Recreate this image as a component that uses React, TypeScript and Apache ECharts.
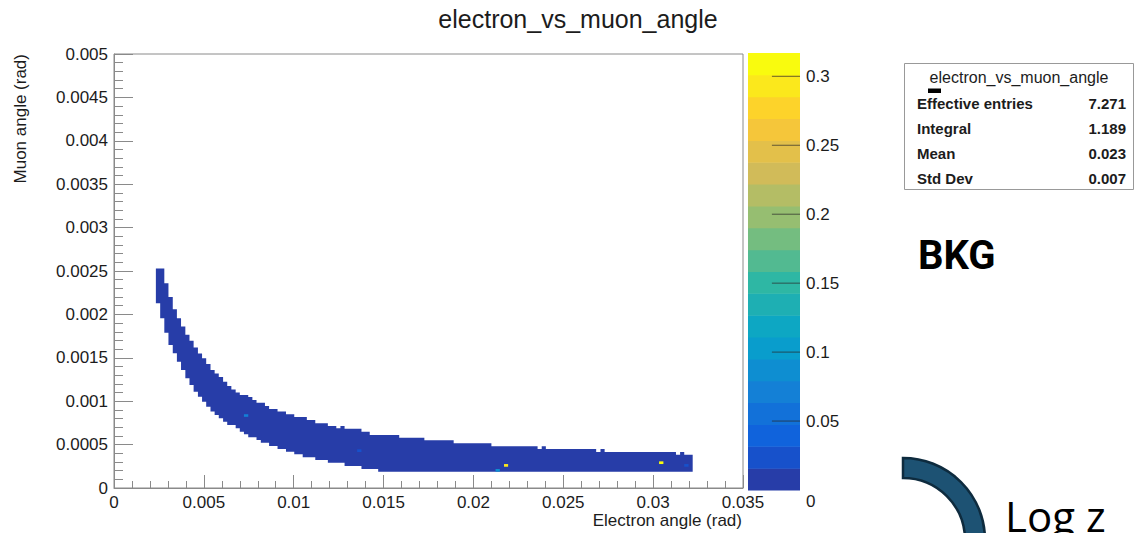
import React, { useEffect, useRef } from "react";
import * as echarts from "echarts";

const TITLE = "electron_vs_muon_angle";
const X_TITLE = "Electron angle (rad)";
const Y_TITLE = "Muon angle (rad)";
const X_MIN = 0;
const X_MAX = 0.035;
const X_INTERVAL = 0.005;
const Y_MIN = 0;
const Y_MAX = 0.005;
const Y_INTERVAL = 0.0005;
const Z_MAX = 0.3169;
const Z_LEVELS = 20;
const Z_TICKS = [0, 0.05, 0.1, 0.15, 0.2, 0.25, 0.3];

// content of the ordinary (dark blue) cells of the band
const BAND_CONTENT = 0.005;
// upper edge of the filled band: [xStart, xEnd, y]
const BAND_TOP = [
  [0.00233, 0.0028, 0.00253],
  [0.0028, 0.00303, 0.00236],
  [0.00303, 0.00327, 0.0022],
  [0.00327, 0.0035, 0.00206],
  [0.0035, 0.00373, 0.001955],
  [0.00373, 0.00397, 0.00186],
  [0.00397, 0.0042, 0.001765],
  [0.0042, 0.00443, 0.001695],
  [0.00443, 0.00467, 0.00162],
  [0.00467, 0.0049, 0.00155],
  [0.0049, 0.00513, 0.001495],
  [0.00513, 0.00537, 0.00143],
  [0.00537, 0.0056, 0.00136],
  [0.0056, 0.00583, 0.00132],
  [0.00583, 0.00607, 0.00128],
  [0.00607, 0.0063, 0.001225],
  [0.0063, 0.00653, 0.001175],
  [0.00653, 0.00677, 0.001135],
  [0.00677, 0.007, 0.0011],
  [0.007, 0.00747, 0.00107],
  [0.00747, 0.0077, 0.001048],
  [0.0077, 0.00793, 0.001015],
  [0.00793, 0.0084, 0.000983],
  [0.0084, 0.00863, 0.000945],
  [0.00863, 0.0091, 0.00091],
  [0.0091, 0.00957, 0.00088],
  [0.00957, 0.01003, 0.00085],
  [0.01003, 0.01073, 0.000818],
  [0.01073, 0.0112, 0.000783],
  [0.0112, 0.0119, 0.000745],
  [0.0119, 0.01237, 0.000714],
  [0.01237, 0.0126, 0.000688],
  [0.0126, 0.01283, 0.000714],
  [0.01283, 0.01377, 0.000683],
  [0.01377, 0.01423, 0.000649],
  [0.01423, 0.01587, 0.000611],
  [0.01587, 0.01727, 0.000579],
  [0.01727, 0.0189, 0.00055],
  [0.0189, 0.021, 0.000515],
  [0.021, 0.02357, 0.00048],
  [0.02357, 0.0238, 0.000449],
  [0.0238, 0.02403, 0.00048],
  [0.02403, 0.02683, 0.000449],
  [0.02683, 0.02707, 0.000415],
  [0.02707, 0.0273, 0.000449],
  [0.0273, 0.03127, 0.000415],
  [0.03127, 0.0315, 0.000384],
  [0.0315, 0.03173, 0.000415],
  [0.03173, 0.0322, 0.000384],
];
// lower edge of the filled band: [xStart, xEnd, y]
const BAND_BOTTOM = [
  [0.00233, 0.00257, 0.002128],
  [0.00257, 0.0028, 0.001955],
  [0.0028, 0.00303, 0.00179],
  [0.00303, 0.00327, 0.001647],
  [0.00327, 0.0035, 0.001552],
  [0.0035, 0.00373, 0.001455],
  [0.00373, 0.00397, 0.00136],
  [0.00397, 0.0042, 0.001264],
  [0.0042, 0.00443, 0.001187],
  [0.00443, 0.00467, 0.00111],
  [0.00467, 0.0049, 0.001052],
  [0.0049, 0.00513, 0.000994],
  [0.00513, 0.00537, 0.000937],
  [0.00537, 0.0056, 0.00088],
  [0.0056, 0.00583, 0.000841],
  [0.00583, 0.00607, 0.000803],
  [0.00607, 0.0063, 0.000764],
  [0.0063, 0.00677, 0.000726],
  [0.00677, 0.007, 0.000688],
  [0.007, 0.00723, 0.000649],
  [0.00723, 0.00747, 0.000619],
  [0.00747, 0.00793, 0.000584],
  [0.00793, 0.00817, 0.000553],
  [0.00817, 0.00863, 0.000522],
  [0.00863, 0.0091, 0.000484],
  [0.0091, 0.00957, 0.000449],
  [0.00957, 0.01003, 0.000418],
  [0.01003, 0.0105, 0.000388],
  [0.0105, 0.0112, 0.000354],
  [0.0112, 0.0119, 0.000323],
  [0.0119, 0.01283, 0.000291],
  [0.01283, 0.01377, 0.000253],
  [0.01377, 0.0147, 0.000219],
  [0.0147, 0.0322, 0.000188],
];
// single cells with a higher content: [xStart, xEnd, yLow, yHigh, content]
const HOT_CELLS = [
  [0.00723, 0.00747, 0.00082, 0.00085, 0.07],
  [0.01353, 0.01377, 0.000415, 0.000446, 0.025],
  [0.0217, 0.02193, 0.000245, 0.000276, 0.3],
  [0.02123, 0.02147, 0.000188, 0.000219, 0.09],
  [0.03033, 0.03057, 0.000276, 0.000307, 0.3169],
  [0.03173, 0.03197, 0.000245, 0.000276, 0.02],
];

const STATS_TITLE = "electron_vs_muon_angle";
const STATS_LABELS = ["Effective entries", "Integral", "Mean", "Std Dev"];
const STATS_VALUES = ["7.271", "1.189", "0.023", "0.007"];

// ROOT kBird palette
const BIRD_STOPS = [0, 0.125, 0.25, 0.375, 0.5, 0.625, 0.75, 0.875, 1];
const BIRD_R = [0.2082, 0.0592, 0.078, 0.0232, 0.1802, 0.5301, 0.8186, 0.9956, 0.9764];
const BIRD_G = [0.1664, 0.3599, 0.5041, 0.6419, 0.7178, 0.7492, 0.7328, 0.7862, 0.9832];
const BIRD_B = [0.5293, 0.8684, 0.8385, 0.7914, 0.6425, 0.4662, 0.3499, 0.1968, 0.0539];

function bird(t: number): string {
  let k = 0;
  while (k < BIRD_STOPS.length - 2 && t > BIRD_STOPS[k + 1]) k++;
  const f = (t - BIRD_STOPS[k]) / (BIRD_STOPS[k + 1] - BIRD_STOPS[k]);
  const c = (a: number[]) => Math.round(255 * (a[k] + f * (a[k + 1] - a[k])));
  return `rgb(${c(BIRD_R)},${c(BIRD_G)},${c(BIRD_B)})`;
}
const LEVEL_COLORS = Array.from({ length: Z_LEVELS }, (_, i) =>
  bird(Math.floor(((i + 0.99) * 255) / Z_LEVELS) / 254)
);
function colorOf(v: number): string {
  const i = Math.min(Z_LEVELS - 1, Math.max(0, Math.floor((v / Z_MAX) * Z_LEVELS)));
  return LEVEL_COLORS[i];
}

const FONT = '"Liberation Sans", Arial, Helvetica, sans-serif';
const AXIS_GRAY = "#8a8a8a";
const TEXT = "#1c1c1c";

export default function App() {
  const ref = useRef<HTMLDivElement>(null);
  useEffect(() => {
    if (!ref.current) return;
    const chart = echarts.init(ref.current, undefined, { renderer: "svg" });
    const textStyle = (extra: any) => ({ fontFamily: FONT, fill: TEXT, ...extra });
    const option: any = {
      animation: false,
      backgroundColor: "#ffffff",
      grid: [
        { left: 114, top: 54, width: 629, height: 434, show: true, borderColor: AXIS_GRAY, borderWidth: 1, backgroundColor: "transparent" },
        { left: 748, top: 53, width: 52, height: 437, show: false },
      ],
      xAxis: [
        {
          type: "value", gridIndex: 0, min: X_MIN, max: X_MAX, interval: X_INTERVAL,
          axisLine: { show: true, lineStyle: { color: AXIS_GRAY } },
          axisTick: { show: true, inside: true, length: 13, lineStyle: { color: AXIS_GRAY } },
          minorTick: { show: true, splitNumber: 5, length: 7, lineStyle: { color: AXIS_GRAY } },
          splitLine: { show: false },
          axisLabel: { fontSize: 17, color: TEXT, fontFamily: FONT, margin: 6 },
        },
        { type: "value", gridIndex: 1, min: 0, max: 1, show: false },
      ],
      yAxis: [
        {
          type: "value", gridIndex: 0, min: Y_MIN, max: Y_MAX, interval: Y_INTERVAL,
          axisLine: { show: true, lineStyle: { color: AXIS_GRAY } },
          axisTick: { show: true, inside: true, length: 19, lineStyle: { color: AXIS_GRAY } },
          minorTick: { show: true, splitNumber: 5, length: 9, lineStyle: { color: AXIS_GRAY } },
          splitLine: { show: false },
          axisLabel: { fontSize: 17, color: TEXT, fontFamily: FONT, margin: 6 },
        },
        {
          type: "value", gridIndex: 1, min: 0, max: Z_MAX, position: "right",
          axisLine: { show: false },
          axisTick: { show: false },
          splitLine: { show: false },
          axisLabel: {
            fontSize: 17, color: TEXT, fontFamily: FONT, margin: 6,
            customValues: Z_TICKS.filter((v) => v > 0),
          },
        },
      ],
      series: [
        {
          type: "custom", xAxisIndex: 0, yAxisIndex: 0, silent: true, data: [[0, 0]],
          renderItem: (_p: any, api: any) => {
            const pts: number[][] = [];
            for (const [x0, x1, y] of BAND_TOP) {
              pts.push(api.coord([x0, y]), api.coord([x1, y]));
            }
            for (let i = BAND_BOTTOM.length - 1; i >= 0; i--) {
              const [x0, x1, y] = BAND_BOTTOM[i];
              pts.push(api.coord([x1, y]), api.coord([x0, y]));
            }
            return { type: "polygon", shape: { points: pts }, style: { fill: colorOf(BAND_CONTENT), stroke: null } };
          },
        },
        {
          type: "custom", xAxisIndex: 0, yAxisIndex: 0, silent: true, data: HOT_CELLS, z: 3,
          renderItem: (_p: any, api: any) => {
            const p0 = api.coord([api.value(0), api.value(3)]);
            const p1 = api.coord([api.value(1), api.value(2)]);
            return {
              type: "rect",
              shape: { x: p0[0], y: p0[1], width: p1[0] - p0[0], height: p1[1] - p0[1] },
              style: { fill: colorOf(api.value(4)) },
            };
          },
        },
        {
          type: "custom", xAxisIndex: 1, yAxisIndex: 1, silent: true,
          data: LEVEL_COLORS.map((_, i) => [i, i]),
          renderItem: (_p: any, api: any) => {
            const i = api.value(0);
            const lo = (i * Z_MAX) / Z_LEVELS;
            const hi = ((i + 1) * Z_MAX) / Z_LEVELS;
            const p0 = api.coord([0, hi]);
            const p1 = api.coord([1, lo]);
            return {
              type: "rect",
              shape: { x: p0[0], y: p0[1], width: p1[0] - p0[0], height: p1[1] - p0[1] + 0.5 },
              style: { fill: LEVEL_COLORS[i] },
            };
          },
        },
        {
          // palette axis ticks, drawn inward from the right edge of the colour bar
          type: "custom", xAxisIndex: 1, yAxisIndex: 1, silent: true, z: 4,
          data: Z_TICKS.filter((v) => v > 0).map((v) => [v, v]),
          renderItem: (_p: any, api: any) => {
            const v = api.value(1);
            const p0 = api.coord([0.46, v]);
            const p1 = api.coord([1, v]);
            return {
              type: "line",
              shape: { x1: p0[0], y1: p0[1], x2: p1[0], y2: p1[1] },
              style: { stroke: "rgba(40,40,40,0.7)", lineWidth: 1 },
            };
          },
        },
      ],
      graphic: [
        { type: "text", x: 578, y: 19, style: textStyle({ text: TITLE, fontSize: 25, align: "center", verticalAlign: "middle", textAlign: "center", textVerticalAlign: "middle" }) },
        { type: "text", x: 20, y: 54, rotation: Math.PI / 2, style: textStyle({ text: Y_TITLE, fontSize: 17, align: "right", verticalAlign: "middle", textAlign: "right", textVerticalAlign: "middle" }) },
        { type: "text", x: 742, y: 520, style: textStyle({ text: X_TITLE, fontSize: 17, align: "right", verticalAlign: "middle", textAlign: "right", textVerticalAlign: "middle" }) },
        { type: "text", x: 806, y: 501, style: textStyle({ text: "0", fontSize: 17, align: "left", verticalAlign: "middle", textAlign: "left", textVerticalAlign: "middle" }) },
        { type: "rect", shape: { x: 904.5, y: 63.5, width: 229, height: 126 }, style: { fill: "#ffffff", stroke: "#999999", lineWidth: 1 } },
        { type: "text", x: 1019, y: 77, style: textStyle({ text: STATS_TITLE, fontSize: 16, align: "center", verticalAlign: "middle", textAlign: "center", textVerticalAlign: "middle" }) },
        { type: "rect", shape: { x: 928, y: 88.5, width: 13, height: 4.5 }, style: { fill: "#000000" } },
        ...STATS_LABELS.map((t, i) => ({ type: "text", x: 917, y: 103 + i * 25, style: textStyle({ text: t, fontSize: 15, fontWeight: "bold", align: "left", verticalAlign: "middle", textAlign: "left", textVerticalAlign: "middle" }) })),
        ...STATS_VALUES.map((t, i) => ({ type: "text", x: 1126, y: 103 + i * 25, style: textStyle({ text: t, fontSize: 15, fontWeight: "bold", align: "right", verticalAlign: "middle", textAlign: "right", textVerticalAlign: "middle" }) })),
        { type: "text", x: 918, y: 255, style: { text: "BKG", fontSize: 40, fontWeight: "bold", fontFamily: "Roboto, sans-serif", fill: "#000000", align: "left", verticalAlign: "middle", textAlign: "left", textVerticalAlign: "middle" } },
        { type: "sector", shape: { cx: 903, cy: 540, r: 82, r0: 62, startAngle: -Math.PI / 2, endAngle: 0, clockwise: true }, style: { fill: "#1d5273", stroke: "#0e2b3e", lineWidth: 2.5 } },
        { type: "text", x: 1005, y: 515, style: { text: "Log z", fontSize: 42, fontFamily: '"Open Sans", sans-serif', fill: "#000000", align: "left", verticalAlign: "middle", textAlign: "left", textVerticalAlign: "middle" } },
      ],
    };
    chart.setOption(option);
    return () => chart.dispose();
  }, []);
  return <div ref={ref} style={{ position: "fixed", left: 0, top: 0, width: 1135, height: 533, background: "#fff" }} />;
}
